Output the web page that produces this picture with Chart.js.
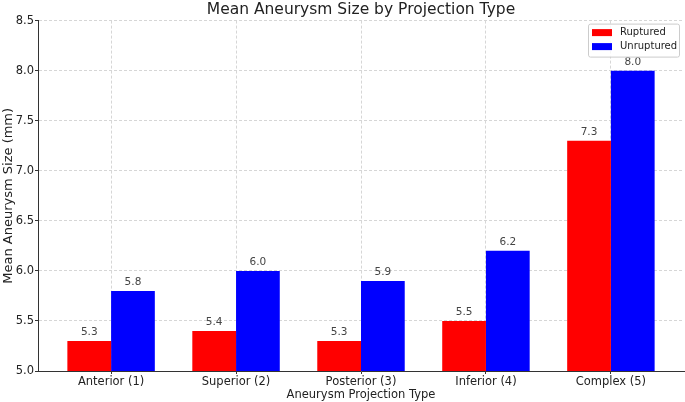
<!DOCTYPE html>
<html lang="en">
<head>
    <meta charset="UTF-8">
    <title>Mean Aneurysm Size by Projection Type</title>
    <script src="https://cdn.jsdelivr.net/npm/chart.js"></script>
    <style>
        html, body { margin: 0; padding: 0; background: #fff; }
    </style>
</head>
<body>
    <canvas id="sizeChart" width="685" height="402"></canvas>

    <script>
        // Data
        const categories = ['Anterior (1)', 'Superior (2)', 'Posterior (3)', 'Inferior (4)', 'Complex (5)'];
        const ruptured = [5.3, 5.4, 5.3, 5.5, 7.3];
        const unruptured = [5.8, 6.0, 5.9, 6.2, 8.0];
        const yTicks = [5.0, 5.5, 6.0, 6.5, 7.0, 7.5, 8.0, 8.5];

        const FONT = 'DejaVu Sans';
        const TEXT = '#222';

        // bar value labels above each bar
        const valueLabels = {
            id: 'valueLabels',
            afterDatasetsDraw(chart) {
                const ctx = chart.ctx;
                ctx.save();
                ctx.font = `10.5px "${FONT}"`;
                ctx.fillStyle = '#444';
                ctx.textAlign = 'center';
                ctx.textBaseline = 'bottom';
                chart.data.datasets.forEach((ds, di) => {
                    chart.getDatasetMeta(di).data.forEach((bar, i) => {
                        ctx.fillText(ds.data[i].y.toFixed(1), bar.x, bar.y - 3);
                    });
                });
                ctx.restore();
            }
        };

        // matplotlib-style legend box in the upper right corner
        const boxLegend = {
            id: 'boxLegend',
            afterDraw(chart) {
                const ctx = chart.ctx;
                const area = chart.chartArea;
                const w = 91, h = 33;
                const x = area.right - w - 5, y = area.top + 3;
                ctx.save();
                ctx.beginPath();
                ctx.roundRect(x + 0.5, y + 0.5, w, h, 2);
                ctx.fillStyle = 'rgba(255,255,255,0.8)';
                ctx.fill();
                ctx.strokeStyle = '#ccc';
                ctx.lineWidth = 1;
                ctx.stroke();
                ctx.font = `10px "${FONT}"`;
                ctx.textBaseline = 'middle';
                chart.data.datasets.forEach((ds, i) => {
                    const rowY = y + 9 + i * 14;
                    ctx.fillStyle = ds.backgroundColor;
                    ctx.fillRect(x + 4, rowY - 3.5, 20, 7);
                    ctx.fillStyle = TEXT;
                    ctx.fillText(ds.label, x + 32, rowY);
                });
                ctx.restore();
            }
        };

        const ctx = document.getElementById('sizeChart').getContext('2d');
        const sizeChart = new Chart(ctx, {
            type: 'bar',
            data: {
                datasets: [{
                    label: 'Ruptured',
                    data: ruptured.map((v, i) => ({ x: i, y: v })),
                    backgroundColor: '#ff0000'
                }, {
                    label: 'Unruptured',
                    data: unruptured.map((v, i) => ({ x: i, y: v })),
                    backgroundColor: '#0000ff'
                }]
            },
            options: {
                responsive: false,
                animation: false,
                layout: { padding: { right: 1 } },
                datasets: {
                    bar: { categoryPercentage: 0.7, barPercentage: 1.0 }
                },
                plugins: {
                    legend: { display: false },
                    tooltip: { enabled: false },
                    title: {
                        display: true,
                        text: 'Mean Aneurysm Size by Projection Type',
                        fullSize: false,
                        color: TEXT,
                        font: { family: FONT, size: 15.5, weight: 'normal', lineHeight: 1.2 },
                        padding: { top: 1, bottom: 1 }
                    }
                },
                scales: {
                    x: {
                        type: 'linear',
                        offset: false,
                        min: -0.585,
                        max: 4.585,
                        afterBuildTicks: s => { s.ticks = categories.map((_, i) => ({ value: i })); },
                        afterFit: s => { s.height = 31; },
                        ticks: {
                            autoSkip: false,
                            maxRotation: 0,
                            padding: 1,
                            color: TEXT,
                            font: { family: FONT, size: 11.5 },
                            callback: v => categories[v]
                        },
                        grid: { offset: false, color: '#d6d6d6', tickLength: 3, tickColor: '#333', borderDash: [3, 2] },
                        border: { color: '#333', width: 1, dash: [3, 2] },
                        title: {
                            display: true,
                            text: 'Aneurysm Projection Type',
                            color: TEXT,
                            font: { family: FONT, size: 11.5 },
                            padding: { top: 0, bottom: 0 }
                        }
                    },
                    y: {
                        min: 5.0,
                        max: 8.5,
                        afterBuildTicks: s => { s.ticks = yTicks.map(v => ({ value: v })); },
                        afterFit: s => { s.width = 38; },
                        ticks: {
                            padding: 1,
                            color: TEXT,
                            font: { family: FONT, size: 11.5 },
                            callback: v => v.toFixed(1)
                        },
                        grid: { color: '#d6d6d6', tickLength: 3, tickColor: '#333', borderDash: [3, 2] },
                        border: { color: '#333', width: 1, dash: [3, 2] },
                        title: {
                            display: true,
                            text: 'Mean Aneurysm Size (mm)',
                            color: TEXT,
                            font: { family: FONT, size: 13 },
                            padding: { top: 1, bottom: 0 }
                        }
                    }
                }
            },
            plugins: [valueLabels, boxLegend]
        });
    </script>
</body>
</html>
